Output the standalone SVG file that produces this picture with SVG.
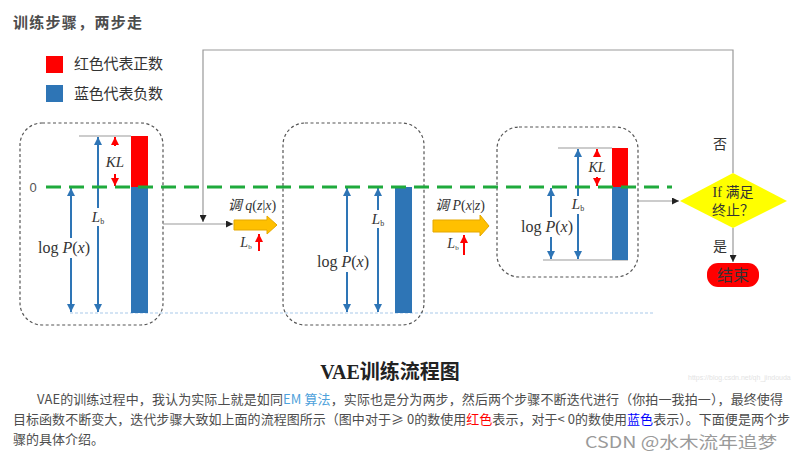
<svg xmlns="http://www.w3.org/2000/svg" width="792" height="459" viewBox="0 0 792 459">
<defs>
<style>
.cjk{font-family:"Noto Sans CJK SC","Noto Sans",sans-serif;}
.ser{font-family:"Liberation Serif","Noto Sans CJK SC",serif;fill:#333;}
.mi{font-style:italic;}
.box{fill:none;stroke:#555;stroke-width:1.2;stroke-dasharray:3 2.5;}
.conn{fill:none;stroke:#999;stroke-width:1.2;}
.barr{stroke:#2e75b6;stroke-width:2;fill:none;}
.rarr{stroke:#ff0000;stroke-width:2;fill:none;}
.gl{stroke:#999;stroke-width:1;}
.lbl{fill:#fff;}
</style>
<marker id="ah" viewBox="0 0 10 10" refX="10" refY="5" markerWidth="7" markerHeight="7" markerUnits="userSpaceOnUse" orient="auto"><path d="M0,0 L10,5 L0,10 z" fill="#222"/></marker>
<marker id="bh" viewBox="0 0 10 10" refX="10" refY="5" markerWidth="8" markerHeight="8" markerUnits="userSpaceOnUse" orient="auto-start-reverse"><path d="M0,0 L10,5 L0,10 z" fill="#2e75b6"/></marker>
<marker id="rh" viewBox="0 0 10 10" refX="10" refY="5" markerWidth="8" markerHeight="8" markerUnits="userSpaceOnUse" orient="auto-start-reverse"><path d="M0,0 L10,5 L0,10 z" fill="#ff0000"/></marker>
</defs>
<rect width="792" height="459" fill="#fff"/>

<text class="cjk" x="13" y="28" font-size="15" font-weight="bold" fill="#4d4d4d" textLength="129">训练步骤，两步走</text>

<g id="legend">
<rect x="46" y="56" width="17" height="17" fill="#ff0000"/>
<text class="cjk" x="74" y="69" font-size="15" fill="#333" textLength="89">红色代表正数</text>
<rect x="46" y="85" width="17" height="17" fill="#2e75b6"/>
<text class="cjk" x="74" y="99" font-size="15" fill="#333" textLength="89">蓝色代表负数</text>
</g>

<line x1="70" y1="313" x2="655" y2="313" stroke="#a9c9ea" stroke-width="1.2" stroke-dasharray="3 2"/>

<g id="box1">
<rect class="box" x="20" y="123" width="143" height="202" rx="22"/>
<line class="gl" x1="79" y1="136" x2="131" y2="136"/>
<rect x="131" y="136" width="17" height="51" fill="#ff0000"/>
<rect x="131" y="187" width="17" height="126" fill="#2e75b6"/>
<line class="barr" x1="71" y1="188" x2="71" y2="312" marker-start="url(#bh)" marker-end="url(#bh)"/>
<line class="barr" x1="98" y1="137" x2="98" y2="312" marker-start="url(#bh)" marker-end="url(#bh)"/>
<line class="rarr" x1="115" y1="146" x2="115" y2="137" marker-end="url(#rh)"/>
<line class="rarr" x1="115" y1="174" x2="115" y2="186" marker-end="url(#rh)"/>
<rect class="lbl" x="104" y="153" width="24" height="18"/>
<text class="ser mi" x="115" y="167" font-size="15" text-anchor="middle">KL</text>
<rect class="lbl" x="90" y="208" width="17" height="18"/>
<text class="ser" x="98" y="222" font-size="15" text-anchor="middle"><tspan class="mi">L</tspan><tspan font-size="8" dy="2">b</tspan></text>
<rect class="lbl" x="37" y="238" width="54" height="20"/>
<text class="ser" x="64" y="253" font-size="16" text-anchor="middle">log <tspan class="mi">P</tspan>(<tspan class="mi">x</tspan>)</text>
</g>

<g id="box2">
<rect class="box" x="283" y="123" width="141" height="202" rx="22"/>
<rect x="395" y="187" width="17" height="126" fill="#2e75b6"/>
<line class="barr" x1="347" y1="188" x2="347" y2="312" marker-start="url(#bh)" marker-end="url(#bh)"/>
<line class="barr" x1="378" y1="188" x2="378" y2="312" marker-start="url(#bh)" marker-end="url(#bh)"/>
<rect class="lbl" x="370" y="210" width="17" height="18"/>
<text class="ser" x="378" y="224" font-size="15" text-anchor="middle"><tspan class="mi">L</tspan><tspan font-size="8" dy="2">b</tspan></text>
<rect class="lbl" x="316" y="252" width="54" height="20"/>
<text class="ser" x="343" y="267" font-size="16" text-anchor="middle">log <tspan class="mi">P</tspan>(<tspan class="mi">x</tspan>)</text>
</g>

<g id="box3">
<rect class="box" x="497" y="127" width="141" height="150" rx="22"/>
<line class="gl" x1="558" y1="148" x2="612" y2="148"/>
<line class="gl" x1="543" y1="260" x2="628" y2="260"/>
<rect x="612" y="148" width="16" height="39" fill="#ff0000"/>
<rect x="612" y="187" width="16" height="73" fill="#2e75b6"/>
<line class="barr" x1="551" y1="188" x2="551" y2="259" marker-start="url(#bh)" marker-end="url(#bh)"/>
<line class="barr" x1="578" y1="149" x2="578" y2="259" marker-start="url(#bh)" marker-end="url(#bh)"/>
<line class="rarr" x1="597" y1="157" x2="597" y2="149" marker-end="url(#rh)"/>
<line class="rarr" x1="597" y1="177" x2="597" y2="186" marker-end="url(#rh)"/>
<rect class="lbl" x="586" y="159" width="23" height="16"/>
<text class="ser mi" x="597" y="172" font-size="14" text-anchor="middle">KL</text>
<rect class="lbl" x="570" y="196" width="17" height="18"/>
<text class="ser" x="578" y="209" font-size="15" text-anchor="middle"><tspan class="mi">L</tspan><tspan font-size="8" dy="2">b</tspan></text>
<rect class="lbl" x="520" y="217" width="54" height="20"/>
<text class="ser" x="547" y="232" font-size="16" text-anchor="middle">log <tspan class="mi">P</tspan>(<tspan class="mi">x</tspan>)</text>
</g>

<line x1="46" y1="187" x2="672" y2="187" stroke="#1faa3c" stroke-width="3" stroke-dasharray="15 8"/>
<text x="33" y="192" font-family="Liberation Sans, sans-serif" font-size="13" fill="#555" text-anchor="middle">0</text>

<g id="step1">
<polygon points="234,220 267,220 267,216 277,225 267,234 267,230 234,230" fill="#ffc000" stroke="#e5a800" stroke-width="1"/>
<text class="ser" x="252" y="210" font-size="14" text-anchor="middle"><tspan class="mi">调</tspan> <tspan class="mi">q</tspan>(<tspan class="mi">z</tspan>|<tspan class="mi">x</tspan>)</text>
<text class="ser" x="246" y="247" font-size="14" text-anchor="middle"><tspan class="mi">L</tspan><tspan font-size="7" dy="2">b</tspan></text>
<line class="rarr" x1="259" y1="251" x2="259" y2="234" marker-end="url(#rh)"/>
</g>

<g id="step2">
<polygon points="433,220 480,220 480,215 489,226 480,236 480,232 433,232" fill="#ffc000" stroke="#e5a800" stroke-width="1"/>
<text class="ser" x="460" y="210" font-size="14" text-anchor="middle"><tspan class="mi">调</tspan> <tspan class="mi">P</tspan>(<tspan class="mi">x</tspan>|<tspan class="mi">z</tspan>)</text>
<text class="ser" x="453" y="248" font-size="14" text-anchor="middle"><tspan class="mi">L</tspan><tspan font-size="7" dy="2">b</tspan></text>
<line class="rarr" x1="464" y1="255" x2="464" y2="235" marker-end="url(#rh)"/>
</g>

<g id="decision">
<polygon points="733,173 787,201 733,228 680,201" fill="#ffff00"/>
<text class="ser" x="733" y="197" font-size="14" text-anchor="middle">If 满足</text>
<text class="ser" x="733" y="215" font-size="14" text-anchor="middle">终止？</text>
</g>

<g id="end">
<rect x="707" y="263" width="52" height="24" rx="11" fill="#ff0000"/>
<text class="ser" x="733" y="281" font-size="16" text-anchor="middle" fill="#111">结束</text>
</g>

<g id="connectors">
<polyline class="conn" points="733,173 733,50 203,50 203,222" marker-end="url(#ah)"/>
<line class="conn" x1="163" y1="224" x2="233" y2="224" marker-end="url(#ah)"/>
<line class="conn" x1="638" y1="201" x2="679" y2="201" marker-end="url(#ah)"/>
<line class="conn" x1="733" y1="228" x2="733" y2="262" marker-end="url(#ah)"/>
<text class="ser" x="720" y="149" font-size="14" text-anchor="middle">否</text>
<text class="ser" x="720" y="251" font-size="14" text-anchor="middle">是</text>
</g>

<text x="390" y="379" font-family="Liberation Serif, Noto Sans CJK SC, serif" font-size="20" font-weight="bold" fill="#222" text-anchor="middle">VAE训练流程图</text>
<text x="688" y="380" font-family="Liberation Sans, sans-serif" font-size="7" fill="#e3e3e3">https://blog.csdn.net/qh_jindouda</text>

<text class="cjk" x="37" y="404" font-size="13" fill="#4d4d4d" textLength="746" lengthAdjust="spacing">VAE的训练过程中，我认为实际上就是如同<tspan fill="#4ea1db">EM 算法</tspan>，实际也是分为两步，然后两个步骤不断迭代进行（你拍一我拍一），最终使得</text>
<text class="cjk" x="13" y="424" font-size="13" fill="#4d4d4d" textLength="777" lengthAdjust="spacing">目标函数不断变大，迭代步骤大致如上面的流程图所示（图中对于≥ 0的数使用<tspan fill="#ff0000">红色</tspan>表示，对于&lt; 0的数使用<tspan fill="#0000ff">蓝色</tspan>表示）。下面便是两个步</text>
<text class="cjk" x="13" y="444" font-size="13" fill="#4d4d4d">骤的具体介绍。</text>
<text class="cjk" x="585" y="448" font-size="16" fill="#9a9a9a" textLength="192" lengthAdjust="spacingAndGlyphs">CSDN @水木流年追梦</text>
</svg>
